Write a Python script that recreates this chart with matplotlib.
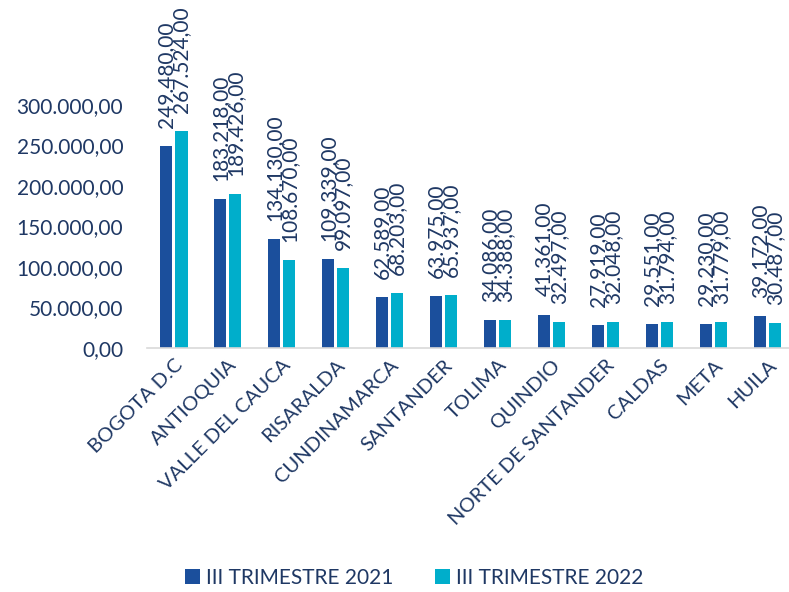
import matplotlib
matplotlib.use("Agg")
import matplotlib.pyplot as plt
import numpy as np

# data
departamentos = ["BOGOTA D.C", "ANTIOQUIA", "VALLE DEL CAUCA", "RISARALDA",
                 "CUNDINAMARCA", "SANTANDER", "TOLIMA", "QUINDIO",
                 "NORTE DE SANTANDER", "CALDAS", "META", "HUILA"]
trim_2021 = [249480, 183218, 134130, 109339, 62589, 63975,
             34086, 41361, 27919, 29551, 29230, 39172]
trim_2022 = [267524, 189426, 108670, 99097, 68203, 65937,
             34388, 32497, 32048, 31794, 31779, 30487]
y_ticks = [0, 50000, 100000, 150000, 200000, 250000, 300000]

TXT = "#1F3864"
C21 = "#1B4F9C"
C22 = "#00AECB"


def fmt(v):
    # es-CO style: 249.480,00
    return f"{v:,.2f}".replace(",", "X").replace(".", ",").replace("X", ".")


plt.rcParams["font.family"] = ["Lato", "DejaVu Sans"]

fig = plt.figure(figsize=(7.89, 5.92), dpi=100)
ax = fig.add_axes([0.186, 0.412, 0.814, 0.411])

x = np.arange(len(departamentos))
w = 0.23
off = 0.14
b1 = ax.bar(x - off, trim_2021, w, color=C21, label="III TRIMESTRE 2021")
b2 = ax.bar(x + off, trim_2022, w, color=C22, label="III TRIMESTRE 2022")

for bars, vals in ((b1, trim_2021), (b2, trim_2022)):
    for rect, v in zip(bars, vals):
        ax.annotate(fmt(v), (rect.get_x() + rect.get_width() / 2, v),
                    xytext=(0, 13), textcoords="offset points",
                    rotation=90, ha="center", va="bottom",
                    fontsize=15, color=TXT, annotation_clip=False)

ax.set_xlim(-0.5, 11.4)
ax.set_ylim(0, 300000)
ax.set_yticks(y_ticks)
ax.set_yticklabels([fmt(v) for v in y_ticks], fontsize=15, color=TXT)
ax.set_xticks(x)
ax.set_xticklabels(departamentos, rotation=45, ha="right",
                   rotation_mode="anchor", fontsize=14.5, color=TXT)

for s in ("top", "right", "left"):
    ax.spines[s].set_visible(False)
ax.spines["bottom"].set_color("#D9D9D9")
ax.spines["bottom"].set_linewidth(1.2)
ax.tick_params(axis="y", length=0, pad=17)
ax.tick_params(axis="x", length=0, pad=6)

fig.legend(handles=[b1, b2], loc="lower center", ncol=2,
           bbox_to_anchor=(0.525, -0.025), frameon=False, fontsize=15,
           handlelength=0.7, handleheight=0.7, handletextpad=0.3,
           columnspacing=2.0, labelcolor=TXT)

fig.savefig("out.png", dpi=100)
